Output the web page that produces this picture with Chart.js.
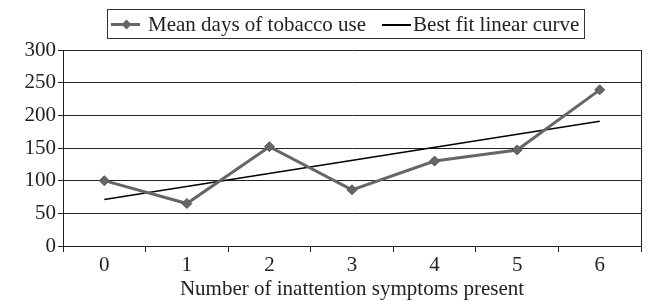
<!DOCTYPE html>
<html>
<head>
<meta charset="utf-8">
<script src="https://cdn.jsdelivr.net/npm/chart.js@4/dist/chart.umd.min.js"></script>
<style>
  html, body { margin: 0; padding: 0; background: #fff; }
  #wrap { position: relative; width: 647px; height: 302px; }
  #legend {
    position: absolute; left: 107px; top: 9px; height: 28px; padding: 0 5px 0 3px;
    border: 1px solid #333; box-sizing: content-box;
    font-family: "Liberation Serif", "Times New Roman", serif; font-size: 21px; color: #222;
    display: inline-flex; align-items: center; white-space: nowrap;
  }
  .item { display: flex; align-items: center; }
  .ico { position: relative; width: 29px; height: 20px; margin-right: 8px; }
  .ico .ln { position: absolute; left: 0; right: 0; top: 9px; height: 3px; background: #666; }
  .ico .dm { position: absolute; left: 12px; top: 7px; width: 7px; height: 7px; background: #666; transform: rotate(45deg); }
  .ico .ln2 { position: absolute; left: 0; right: 0; top: 10px; height: 2px; background: #000; }
</style>
</head>
<body>
<div id="wrap">
  <canvas id="c" width="647" height="302"></canvas>
  <div id="legend"></div>
</div>
<script>
const categories = ["0", "1", "2", "3", "4", "5", "6"];
const meanDays = [100, 65, 152, 86, 130, 147, 239];
const fitLine = [71, null, null, null, null, null, 191];
const seriesNames = ["Mean days of tobacco use", "Best fit linear curve"];
const xTitle = "Number of inattention symptoms present";

const FONT = "'Liberation Serif', 'Times New Roman', serif";

// HTML legend built from the series names
const leg = document.getElementById('legend');
leg.innerHTML =
  '<div class="item"><div class="ico"><div class="ln"></div><div class="dm"></div></div><span>' + seriesNames[0] + '</span></div>' +
  '<div class="item" style="margin-left:16px"><div class="ico" style="margin-right:2px"><div class="ln2"></div></div><span>' + seriesNames[1] + '</span></div>';

const borderPlugin = {
  id: 'plotBorder',
  afterDraw(chart) {
    const a = chart.chartArea, ctx = chart.ctx;
    ctx.save();
    ctx.strokeStyle = '#222';
    ctx.lineWidth = 1;
    ctx.beginPath();
    ctx.moveTo(Math.round(a.right) + 0.5, a.top);
    ctx.lineTo(Math.round(a.right) + 0.5, a.bottom);
    ctx.stroke();
    ctx.restore();
  }
};

new Chart(document.getElementById('c'), {
  type: 'line',
  data: {
    labels: categories,
    datasets: [
      {
        label: seriesNames[0],
        data: meanDays,
        borderColor: '#666',
        backgroundColor: '#666',
        borderWidth: 3,
        pointStyle: 'rectRot',
        pointRadius: 5,
        pointBorderWidth: 1,
        pointBackgroundColor: '#666',
        pointBorderColor: '#555',
        tension: 0,
        order: 1
      },
      {
        label: seriesNames[1],
        data: fitLine,
        borderColor: '#000',
        borderWidth: 1.5,
        pointRadius: 0,
        spanGaps: true,
        tension: 0,
        order: 2
      }
    ]
  },
  options: {
    responsive: false,
    animation: false,
    layout: { padding: { top: 50, right: 3, left: 0, bottom: 0 } },
    plugins: { legend: { display: false }, tooltip: { enabled: false } },
    scales: {
      x: {
        type: 'category',
        offset: true,
        afterFit(s) { s.height = 56; },
        grid: { drawOnChartArea: false, drawTicks: true, tickLength: 6, color: '#222', offset: true },
        border: { display: true, color: '#222', width: 1 },
        ticks: { color: '#222', font: { family: FONT, size: 21 }, padding: 1 },
        title: { display: true, text: xTitle, color: '#222', font: { family: FONT, size: 21 }, padding: { top: 0, bottom: 0 } }
      },
      y: {
        min: 0, max: 300,
        afterFit(s) { s.width = 63; },
        ticks: { stepSize: 50, color: '#222', font: { family: FONT, size: 21 }, padding: 2 },
        grid: { drawOnChartArea: true, drawTicks: true, tickLength: 5, color: '#222', lineWidth: 1 },
        border: { display: true, color: '#222', width: 1 }
      }
    }
  },
  plugins: [borderPlugin]
});
</script>
</body>
</html>
